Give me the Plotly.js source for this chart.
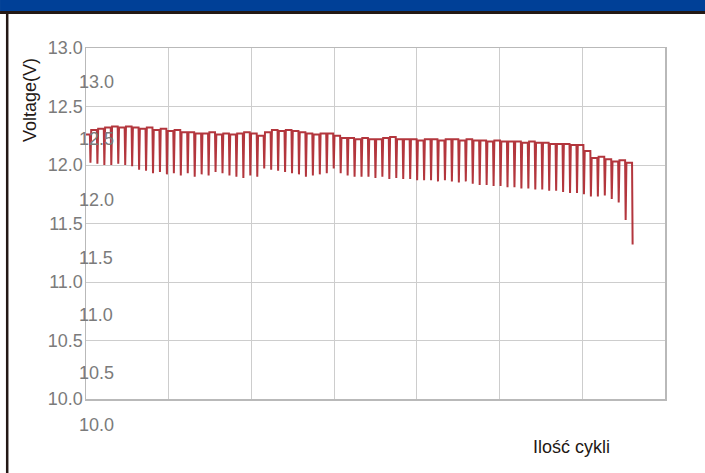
<!DOCTYPE html>
<html>
<head>
<meta charset="utf-8">
<script src="https://cdn.plot.ly/plotly-3.0.1.min.js"></script>
<style>
  html, body { margin: 0; padding: 0; background: #ffffff; overflow: hidden; }
  #chart { width: 705px; height: 473px; }
</style>
</head>
<body>
<div id="chart"></div>
<script>
// ---- data ----
// rest (top) voltage of each cycle
const restV = [
  12.26, 12.30, 12.31, 12.32, 12.33, 12.32, 12.33, 12.32, 12.31, 12.32,
  12.30, 12.31, 12.29, 12.30, 12.28, 12.28, 12.27, 12.27, 12.28, 12.26,
  12.27, 12.26, 12.27, 12.28, 12.27, 12.25, 12.28, 12.30, 12.29, 12.30,
  12.29, 12.28, 12.27, 12.26, 12.27, 12.27, 12.25, 12.23, 12.23, 12.22,
  12.23, 12.22, 12.22, 12.23, 12.24, 12.22, 12.22, 12.22, 12.21, 12.22,
  12.22, 12.21, 12.22, 12.22, 12.21, 12.22, 12.21, 12.21, 12.20, 12.21,
  12.20, 12.20, 12.20, 12.19, 12.20, 12.19, 12.19, 12.18, 12.18, 12.18,
  12.17, 12.17, 12.12, 12.06, 12.07, 12.05, 12.03, 12.04, 12.02
];
// voltage under load (bottom of each spike)
const loadV = [
  12.02, 12.01, 12.00, 12.00, 12.01, 12.00, 11.99, 11.96, 11.95, 11.93,
  11.94, 11.92, 11.93, 11.91, 11.93, 11.90, 11.92, 11.91, 11.94, 11.93,
  11.91, 11.90, 11.89, 11.91, 11.90, 11.97, 11.96, 11.95, 11.94, 11.93,
  11.92, 11.90, 11.91, 11.92, 11.93, 11.97, 11.93, 11.91, 11.90, 11.90,
  11.90, 11.89, 11.90, 11.88, 11.89, 11.88, 11.88, 11.87, 11.87, 11.87,
  11.86, 11.87, 11.86, 11.85, 11.86, 11.84, 11.83, 11.83, 11.82, 11.82,
  11.81, 11.81, 11.80, 11.80, 11.79, 11.79, 11.78, 11.78, 11.77, 11.76,
  11.76, 11.75, 11.73, 11.73, 11.74, 11.71, 11.68, 11.53, 11.32
];
const yTicks = [10.0, 10.5, 11.0, 11.5, 12.0, 12.5, 13.0];
const yTickText = ["10.0", "10.5", "11.0", "11.5", "12.0", "12.5", "13.0"];
const yTitle = "Voltage(V)";
const xTitle = "Ilość cykli";

// ---- styles ----
const ghostShift = [-26, -32, -33, -34, -35, -32, -34]; // px offset of the duplicated labels
const tickFont = { family: "Liberation Sans, Arial, sans-serif", size: 18, color: "#7b7b7b" };
const darkText = "#231815";

// build the sawtooth line: rest plateau then a drop to the load voltage
const xs = [], ys = [];
for (let k = 0; k < restV.length; k++) {
  xs.push(k - 0.25, k + 0.56, k + 0.64);
  ys.push(restV[k], restV[k], loadV[k]);
}

const trace = {
  type: "scatter",
  mode: "lines",
  x: xs,
  y: ys,
  line: { color: "#ad252d", width: 2 },
  opacity: 0.92,
  hoverinfo: "skip"
};

const annotations = [];
yTicks.forEach((v, i) => {
  annotations.push({
    xref: "paper", yref: "y", x: 0, y: v, xshift: 10, yshift: ghostShift[i],
    xanchor: "center", yanchor: "middle", showarrow: false,
    text: yTickText[i], font: tickFont
  });
});
annotations.push({
  xref: "paper", yref: "paper", x: -0.0967, y: 0.852,
  xanchor: "center", yanchor: "middle", showarrow: false, textangle: -90,
  text: yTitle, font: { family: "Liberation Sans, Arial, sans-serif", size: 18, color: darkText }
});
annotations.push({
  xref: "paper", yref: "paper", x: 0.838, y: -0.137,
  xanchor: "center", yanchor: "middle", showarrow: false,
  text: xTitle, font: { family: "Liberation Sans, Arial, sans-serif", size: 18, color: darkText }
});

const shapes = [
  // blue header band
  { type: "rect", xref: "paper", yref: "paper", x0: -0.1485, x1: 1.0691, y0: 1.1054, y1: 1.1368,
    fillcolor: "#004097", line: { width: 0 }, layer: "above" },
  // dark rule under header
  { type: "rect", xref: "paper", yref: "paper", x0: -0.1485, x1: 1.0691, y0: 1.0969, y1: 1.1054,
    fillcolor: "#231815", line: { width: 0 }, layer: "above" },
  // left frame line
  { type: "line", xref: "paper", yref: "paper", x0: -0.1361, x1: -0.1361, y0: 1.0969, y1: -0.2108,
    line: { color: "#231815", width: 2.5 }, layer: "above" }
];

const layout = {
  width: 705, height: 473,
  margin: { l: 86, r: 40, t: 48, b: 74 },
  paper_bgcolor: "#ffffff",
  plot_bgcolor: "#ffffff",
  showlegend: false,
  xaxis: {
    range: [0, 83.3], tick0: 0, dtick: 11.9,
    showticklabels: false, ticks: "",
    showgrid: true, gridcolor: "#cdcdcd", gridwidth: 1,
    showline: true, linecolor: "#b9b9b9", linewidth: 1.5, mirror: true,
    zeroline: false, fixedrange: true
  },
  yaxis: {
    range: [10, 13], tickvals: yTicks, ticktext: yTickText, ticks: "",
    tickfont: tickFont, ticklabelstandoff: -2,
    showgrid: true, gridcolor: "#cdcdcd", gridwidth: 1,
    showline: true, linecolor: "#b9b9b9", linewidth: 1.5, mirror: true,
    zeroline: false, fixedrange: true
  },
  annotations: annotations,
  shapes: shapes
};

Plotly.newPlot("chart", [trace], layout, { displayModeBar: false, staticPlot: true });
</script>
</body>
</html>
